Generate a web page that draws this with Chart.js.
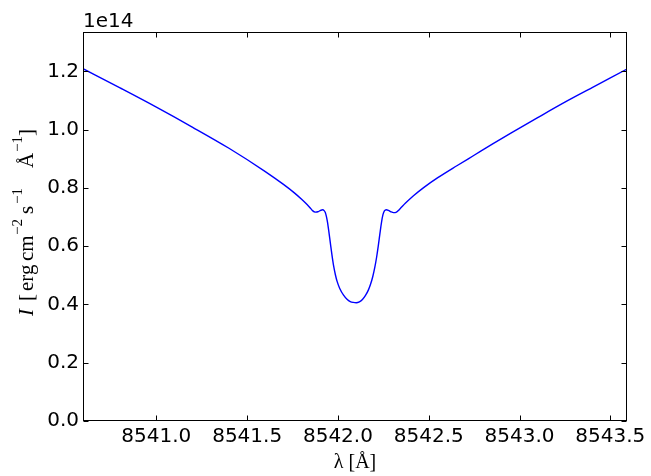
<!DOCTYPE html>
<html>
<head>
<meta charset="utf-8">
<script src="https://cdn.jsdelivr.net/npm/chart.js@4/dist/chart.umd.min.js"></script>
<style>
  html, body { margin: 0; padding: 0; background: #ffffff; }
  canvas { display: block; }
</style>
</head>
<body>
<canvas id="spectrum" width="651" height="476"></canvas>
<script>
// Ca II 8542 Å line profile: wavelength in Å, intensity in units of 1e14 erg cm^-2 s^-1 Å^-1
const wavelength = [
  8540.596, 8540.800, 8541.000, 8541.200, 8541.400, 8541.600, 8541.700, 8541.760, 8541.800, 8541.830,
  8541.845, 8541.860, 8541.875, 8541.890, 8541.905, 8541.916, 8541.924, 8541.930, 8541.936, 8541.942,
  8541.950, 8541.958, 8541.967, 8541.976, 8541.986, 8541.995, 8542.010, 8542.031, 8542.050, 8542.068,
  8542.085, 8542.101, 8542.118, 8542.135, 8542.151, 8542.168, 8542.180, 8542.192, 8542.203, 8542.213,
  8542.222, 8542.231, 8542.240, 8542.248, 8542.256, 8542.266, 8542.278, 8542.292, 8542.306, 8542.320,
  8542.340, 8542.371, 8542.416, 8542.472, 8542.550, 8542.655, 8542.750, 8542.850, 8542.950, 8543.100,
  8543.250, 8543.400, 8543.592
];
const intensity = [
  1.209, 1.143, 1.077, 1.008, 0.936, 0.856, 0.812, 0.783, 0.761, 0.743,
  0.733, 0.722, 0.717, 0.718, 0.723, 0.725, 0.722, 0.716, 0.703, 0.684,
  0.650, 0.612, 0.570, 0.533, 0.502, 0.480, 0.455, 0.432, 0.418, 0.410,
  0.407, 0.406, 0.409, 0.417, 0.430, 0.450, 0.470, 0.496, 0.527, 0.562,
  0.600, 0.642, 0.682, 0.708, 0.721, 0.725, 0.723, 0.718, 0.715, 0.716,
  0.727, 0.747, 0.773, 0.801, 0.835, 0.876, 0.912, 0.950, 0.987, 1.041,
  1.094, 1.144, 1.208
];

const xTickValues = [8541.0, 8541.5, 8542.0, 8542.5, 8543.0, 8543.5];
const yTickValues = [0.0, 0.2, 0.4, 0.6, 0.8, 1.0, 1.2];
const xRange = [8540.596, 8543.592];
const yRange = [0, 1.335];
const offsetLabel = '1e14';

const points = wavelength.map((w, i) => ({ x: w, y: intensity[i] }));

// Axis titles as runs of pieces; "at" is the offset of each piece along the reading direction
const yTitle = [
  { t: 'I', italic: true, at: 4 },
  { t: '[', at: 19 },
  { t: 'erg', at: 29 },
  { t: 'cm', at: 59 },
  { t: '\u22122', sup: true, at: 85 },
  { t: 's', at: 106 },
  { t: '\u22121', sup: true, at: 116 },
  { t: '\u00C5', at: 152 },
  { t: '\u22121', sup: true, at: 168 },
  { t: ']', at: 184 }
];
const yTitleLength = 193;
const xTitle = [{ t: '\u03BB' }, { t: ' [\u00C5]' }];

const serif = '"Liberation Serif"';

function pieceFont(p, size) {
  const fs = p.sup ? Math.round(size * 0.72) : size;
  return (p.italic ? 'italic ' : '') + fs + 'px ' + serif;
}

// Frame with inward ticks on all four sides, plus axis titles and the offset label
const framePlugin = {
  id: 'frame',
  afterDraw(chart) {
    const { ctx, chartArea: a, scales } = chart;
    const L = Math.round(a.left) + 0.5, R = Math.round(a.right) - 0.5;
    const T = Math.round(a.top) + 0.5, B = Math.round(a.bottom) - 0.5;
    const len = 5;
    ctx.save();
    ctx.strokeStyle = '#000000';
    ctx.lineWidth = 1;
    ctx.beginPath();
    for (const v of xTickValues) {
      const px = Math.round(scales.x.getPixelForValue(v)) + 0.5;
      ctx.moveTo(px, B); ctx.lineTo(px, B - len);
      ctx.moveTo(px, T); ctx.lineTo(px, T + len);
    }
    for (const v of yTickValues) {
      const py = Math.round(scales.y.getPixelForValue(v)) + 0.5;
      ctx.moveTo(L, py); ctx.lineTo(L + len, py);
      ctx.moveTo(R, py); ctx.lineTo(R - len, py);
    }
    ctx.stroke();
    ctx.strokeRect(L, T, R - L, B - T);

    ctx.fillStyle = '#000000';
    ctx.textBaseline = 'alphabetic';
    ctx.textAlign = 'left';
    ctx.font = '20px "DejaVu Sans"';
    ctx.fillText(offsetLabel, a.left, 27);

    // x title
    const xs = 20;
    ctx.font = xs + 'px ' + serif;
    let xw = 0;
    for (const p of xTitle) xw += ctx.measureText(p.t).width;
    let cx = (a.left + a.right) / 2 - xw / 2;
    for (const p of xTitle) { ctx.fillText(p.t, cx, 468); cx += ctx.measureText(p.t).width; }

    // y title, rotated to read bottom to top
    const ys = 21;
    ctx.translate(33, (a.top + a.bottom) / 2 - 3);
    ctx.rotate(-Math.PI / 2);
    for (const p of yTitle) {
      ctx.font = pieceFont(p, ys);
      ctx.fillText(p.t, p.at - yTitleLength / 2, p.sup ? -11 : 0);
    }
    ctx.restore();
  }
};

new Chart(document.getElementById('spectrum'), {
  type: 'line',
  data: {
    datasets: [{
      data: points,
      borderColor: '#0000ff',
      borderWidth: 1.4,
      pointRadius: 0,
      fill: false,
      cubicInterpolationMode: 'monotone'
    }]
  },
  options: {
    responsive: false,
    animation: false,
    devicePixelRatio: 1,
    layout: { padding: { left: 0, top: 32, right: 24, bottom: 0 } },
    plugins: { legend: { display: false }, tooltip: { enabled: false } },
    scales: {
      x: {
        type: 'linear',
        min: xRange[0], max: xRange[1],
        grid: { display: false, drawTicks: false },
        border: { display: false },
        afterFit(s) { s.height = 55; },
        afterBuildTicks(s) { s.ticks = xTickValues.map(v => ({ value: v })); },
        ticks: {
          padding: 4,
          color: '#000000',
          font: { family: '"DejaVu Sans"', size: 20 },
          callback: v => Number(v).toFixed(1),
          maxRotation: 0, autoSkip: false
        }
      },
      y: {
        type: 'linear',
        min: yRange[0], max: yRange[1],
        grid: { display: false, drawTicks: false },
        border: { display: false },
        afterFit(s) { s.width = 83; },
        afterBuildTicks(s) { s.ticks = yTickValues.map(v => ({ value: v })); },
        ticks: {
          padding: 4,
          color: '#000000',
          font: { family: '"DejaVu Sans"', size: 20 },
          callback: v => Number(v).toFixed(1),
          autoSkip: false
        }
      }
    }
  },
  plugins: [framePlugin]
});
</script>
</body>
</html>
